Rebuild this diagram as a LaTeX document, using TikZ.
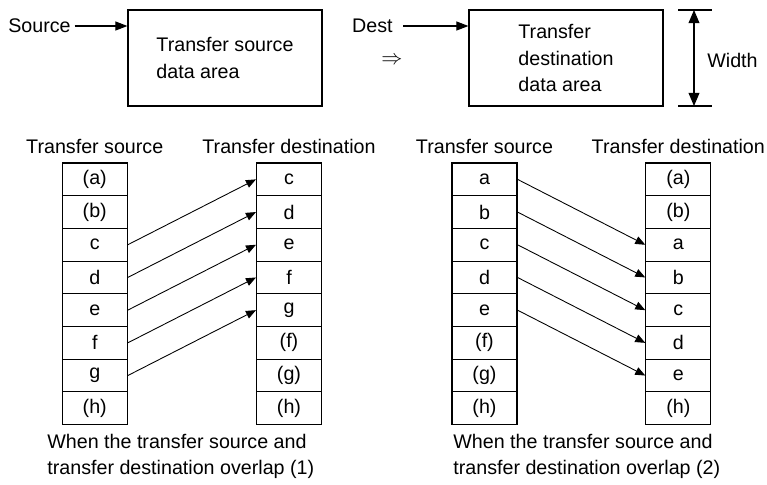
\documentclass[tikz,border=0pt]{standalone}
\usepackage{fontspec}
\setmainfont{Liberation Sans}
\usetikzlibrary{arrows.meta}

\begin{document}
\begin{tikzpicture}[x=0.02cm, y=-0.02cm, font=\fontsize{11.2}{15}\selectfont,
  area/.style={draw, line width=0.7pt, minimum width=3.88cm, minimum height=1.92cm, align=left, inner sep=0pt},
  cell/.style={draw, line width=0.6pt, minimum width=1.3cm, minimum height=0.654cm, inner sep=0pt},
  head/.style={inner sep=0pt},
  move/.style={line width=0.5pt, -{Triangle[length=5.7pt, width=4.6pt]}},
  point/.style={line width=0.6pt, -{Triangle[length=6.8pt, width=5.1pt]}}]
\useasboundingbox (0,0) rectangle (767,484);

% data areas
\node[head, anchor=east] (src) at (71, 26) {Source};
\node[area] (srcarea) at (225, 58) {Transfer source\\data area};
\node[head, anchor=east] (dst) at (393, 26) {Dest};
\node[area] (dstarea) at (566, 58) {Transfer\\destination\\data area};
\node[head] (imp) at (392, 61) {\large$\Rightarrow$};
\draw[point] ([xshift=2pt]src.east) -- (src -| srcarea.west);
\draw[point] ([xshift=0.2cm]dst.east) -- (dst -| dstarea.west);

% width
\coordinate (wtop) at (694, 10);
\coordinate (wbot) at (694, 106);
\draw[line width=0.6pt] (678, 10) -- (712, 10)
(678, 106) -- (712, 106);
\draw[line width=0.6pt, {Triangle[length=7.5pt, width=6.2pt]}-{Triangle[length=7.5pt, width=6.2pt]}] (wtop) -- (wbot);
\node[head, anchor=west] (wlabel) at (707, 60) {Width};

% overlap (1)
\node[head] (h11) at (94.75, 146) {Transfer source};
\node[head] (h12) at (289, 146) {Transfer destination};
\node[cell] (s11) at (94.75, 179.35) {(a)};
\node[cell] (s12) at (94.75, 212.05) {(b)};
\node[cell] (s13) at (94.75, 244.75) {c};
\node[cell] (s14) at (94.75, 277.45) {d};
\node[cell] (s15) at (94.75, 310.15) {e};
\node[cell] (s16) at (94.75, 342.85) {f};
\node[cell] (s17) at (94.75, 375.55) {g};
\node[cell] (s18) at (94.75, 408.25) {(h)};
\node[cell] (d11) at (289, 179.35) {c};
\node[cell] (d12) at (289, 212.05) {d};
\node[cell] (d13) at (289, 244.75) {e};
\node[cell] (d14) at (289, 277.45) {f};
\node[cell] (d15) at (289, 310.15) {g};
\node[cell] (d16) at (289, 342.85) {(f)};
\node[cell] (d17) at (289, 375.55) {(g)};
\node[cell] (d18) at (289, 408.25) {(h)};
\draw[move] (s13.east) -- (d11.west);
\draw[move] (s14.east) -- (d12.west);
\draw[move] (s15.east) -- (d13.west);
\draw[move] (s16.east) -- (d14.west);
\draw[move] (s17.east) -- (d15.west);
\node[head, anchor=west, align=left] (cap1) at (47, 456.5) {When the transfer source and\\transfer destination overlap (1)};

% overlap (2)
\node[head] (h21) at (484.5, 146) {Transfer source};
\node[head] (h22) at (678.3, 146) {Transfer destination};
\node[cell] (s21) at (484.5, 179.35) {a};
\node[cell] (s22) at (484.5, 212.05) {b};
\node[cell] (s23) at (484.5, 244.75) {c};
\node[cell] (s24) at (484.5, 277.45) {d};
\node[cell] (s25) at (484.5, 310.15) {e};
\node[cell] (s26) at (484.5, 342.85) {(f)};
\node[cell] (s27) at (484.5, 375.55) {(g)};
\node[cell] (s28) at (484.5, 408.25) {(h)};
\node[cell] (d21) at (678.3, 179.35) {(a)};
\node[cell] (d22) at (678.3, 212.05) {(b)};
\node[cell] (d23) at (678.3, 244.75) {a};
\node[cell] (d24) at (678.3, 277.45) {b};
\node[cell] (d25) at (678.3, 310.15) {c};
\node[cell] (d26) at (678.3, 342.85) {d};
\node[cell] (d27) at (678.3, 375.55) {e};
\node[cell] (d28) at (678.3, 408.25) {(h)};
\draw[move] (s21.east) -- (d23.west);
\draw[move] (s22.east) -- (d24.west);
\draw[move] (s23.east) -- (d25.west);
\draw[move] (s24.east) -- (d26.west);
\draw[move] (s25.east) -- (d27.west);
\node[head, anchor=west, align=left] (cap2) at (453, 456.5) {When the transfer source and\\transfer destination overlap (2)};
\end{tikzpicture}
\end{document}
